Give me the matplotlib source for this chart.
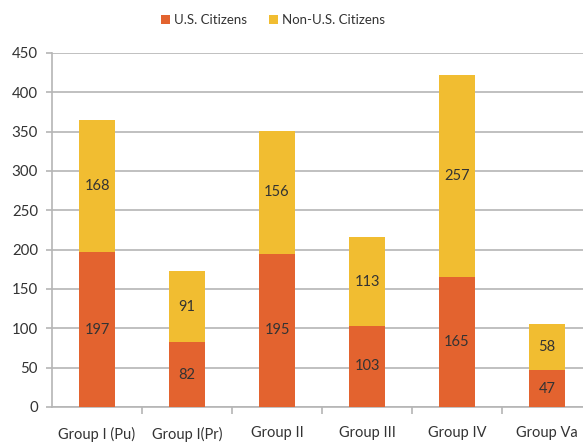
import matplotlib.pyplot as plt
import numpy as np

# Chart data
groups = ["Group I (Pu)", "Group I(Pr)", "Group II", "Group III", "Group IV", "Group Va"]
us_citizens = [197, 82, 195, 103, 165, 47]
non_us_citizens = [168, 91, 156, 113, 257, 58]

orange = "#E3632F"
yellow = "#F1BD31"
grid_col = "#B5B5B5"
text_col = "#333333"

plt.rcParams['font.family'] = ['Lato', 'DejaVu Sans']

fig = plt.figure(figsize=(5.83, 4.42), dpi=100)
# axes right edge runs past the figure edge, like the original crop
ax = fig.add_axes([52/583, 35/442, 540/583, 354/442])

x = np.arange(len(groups))
w = 0.39
b1 = ax.bar(x, us_citizens, w, color=orange, label="U.S. Citizens", zorder=3)
b2 = ax.bar(x, non_us_citizens, w, bottom=us_citizens, color=yellow,
            label="Non-U.S. Citizens", zorder=3)

# value labels in the middle of each segment
for i in range(len(groups)):
    ax.text(x[i], us_citizens[i] / 2, str(us_citizens[i]), ha="center",
            va="center", fontsize=10.5, color=text_col, zorder=4)
    ax.text(x[i], us_citizens[i] + non_us_citizens[i] / 2, str(non_us_citizens[i]),
            ha="center", va="center", fontsize=10.5, color=text_col, zorder=4)

ax.set_xlim(-0.5, len(groups) - 0.5)
ax.set_ylim(0, 450)
ax.set_yticks(np.arange(0, 451, 50))
ax.yaxis.grid(True, color=grid_col, linewidth=1.2, zorder=0)

# category labels centred, ticks at the boundaries
ax.set_xticks(x)
ax.set_xticklabels(groups, fontsize=10.5, color=text_col)
ax.set_xticks(np.arange(len(groups)) + 0.5, minor=True)
ax.tick_params(axis="x", which="major", length=0, pad=14)
ax.tick_params(axis="x", which="minor", length=5, color=grid_col, width=1.2)
ax.tick_params(axis="y", length=4, color=grid_col, width=1.2,
               labelsize=10.8, labelcolor=text_col, pad=6)

for s in ["top", "right"]:
    ax.spines[s].set_visible(False)
for s in ["left", "bottom"]:
    ax.spines[s].set_color(grid_col)
    ax.spines[s].set_linewidth(1.2)

fig.legend(handles=[b1, b2], loc="center", bbox_to_anchor=(273/583, 1 - 20/442),
           ncol=2, frameon=False, fontsize=9.5, handlelength=0.75,
           handleheight=0.75, handletextpad=0.3, columnspacing=1.6,
           labelcolor=text_col)

fig.savefig("out.png", dpi=100)
